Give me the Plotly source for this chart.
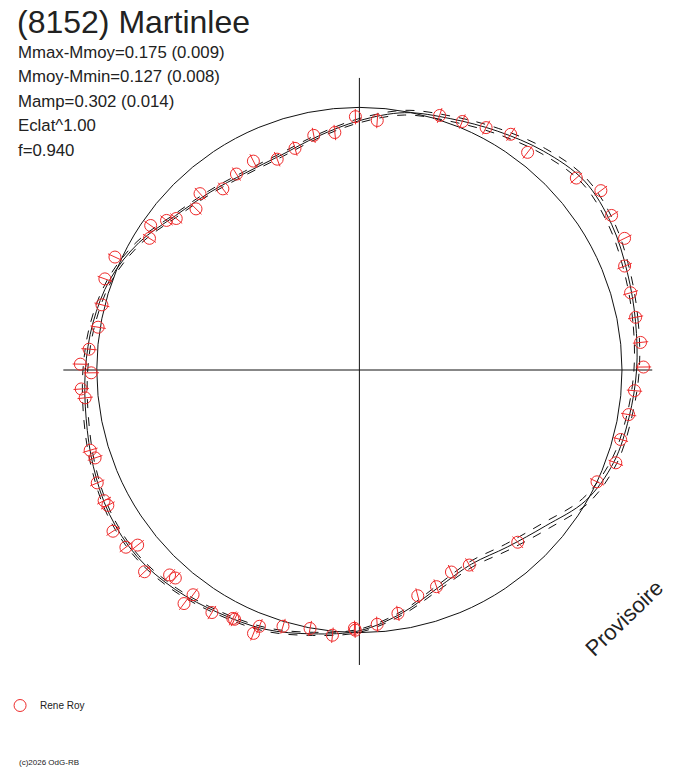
import plotly.graph_objects as go

# points: phase angle (deg, counterclockwise from east) and relative radius
pt_theta = [90.9, 85.9, 72.5, 67.5, 62.4, 57.3, 52.3, 41.5, 36.6, 31.5,
            26.4, 21.4, 15.9, 10.8, 5.6, 0.6, -4.3, -9.4, -14.9, -19.9,
            -25.2, -47.4, -60.6, -65.5, -70.4, -75.5, -81.0, -86.0, -91.1, -90.9,
            -95.8, -100.8, -106.6, -111.3, -111.9, -116.6, -117.0, -121.3, -126.5, -126.9,
            -131.5, -132.8, -136.8, -141.7, -142.8, -146.8, -151.7, -152.9, -156.7, -161.6,
            -163.4, -174.2, -176.1, -179.4, 178.8, 175.6, 170.7, 165.8, 160.3, 155.2,
            147.9, 145.3, 142.2, 140.4, 135.4, 132.1, 127.0, 122.1, 116.9, 111.3,
            106.2, 101.0, 95.9]
pt_r = [0.955, 0.943, 1.006, 1.014, 1.031, 1.056, 1.037, 1.092, 1.134, 1.115,
        1.116, 1.074, 1.063, 1.060, 1.065, 1.071, 1.040, 1.029, 1.019, 1.028,
        0.990, 0.882, 0.844, 0.837, 0.867, 0.879, 0.929, 0.961, 0.974, 0.981,
        1.005, 0.992, 1.008, 1.037, 1.070, 1.051, 1.051, 1.070, 1.054, 1.101,
        1.047, 1.053, 1.111, 1.065, 1.105, 1.110, 1.077, 1.081, 1.076, 1.050,
        1.059, 1.039, 1.051, 1.011, 1.052, 1.022, 0.998, 1.001, 1.019, 1.015,
        0.934, 0.957, 0.920, 0.896, 0.865, 0.896, 0.855, 0.872, 0.883, 0.853,
        0.870, 0.901, 0.900]

# fitted curve and its uncertainty
fit_theta = [0, 10, 20, 30, 40, 50, 60, 70, 80, 90, 100, 110,
             120, 130, 140, 150, 160, 170, 180, 190, 200, 210, 220, 230,
             240, 250, 260, 270, 280, 290, 300, 310, 320, 330, 340, 350]
fit_r = [1.045, 1.057, 1.075, 1.098, 1.108, 1.078, 1.040, 1.008, 0.985, 0.940, 0.895, 0.862,
         0.858, 0.875, 0.905, 0.960, 1.000, 1.020, 1.033, 1.046, 1.067, 1.088, 1.094, 1.080,
         1.058, 1.040, 1.010, 0.983, 0.930, 0.872, 0.845, 0.870, 0.915, 0.985, 1.020, 1.032]
fit_err = [0.010, 0.010, 0.011, 0.012, 0.012, 0.012, 0.011, 0.010, 0.009, 0.008, 0.007, 0.007,
           0.007, 0.007, 0.007, 0.008, 0.008, 0.009, 0.009, 0.009, 0.008, 0.008, 0.007, 0.007,
           0.007, 0.007, 0.006, 0.006, 0.007, 0.009, 0.011, 0.013, 0.015, 0.014, 0.012, 0.010]

ref_circle = 0.99
axis_theta = [0, 90, 180, 270]
axis_r = [1.104, 1.101, 1.116, 1.112]

infos = ["Mmax-Mmoy=0.175 (0.009)", "Mmoy-Mmin=0.127 (0.008)",
         "Mamp=0.302 (0.014)", "Eclat^1.00", "f=0.940"]

W, H = 688, 768

fig = go.Figure()

# axes cross
for t, r in zip(axis_theta, axis_r):
    fig.add_trace(go.Scatterpolar(r=[0, r], theta=[t, t], mode="lines",
                                  line=dict(color="#111", width=1),
                                  showlegend=False, hoverinfo="skip"))

loop_t = fit_theta + [fit_theta[0] + 360]
loop_r = fit_r + [fit_r[0]]
loop_e = fit_err + [fit_err[0]]
hi = [r + e for r, e in zip(loop_r, loop_e)]
lo = [r - e for r, e in zip(loop_r, loop_e)]

for rr, dash in [(hi, "dash"), (lo, "dash"), (loop_r, "solid")]:
    fig.add_trace(go.Scatterpolar(r=rr, theta=loop_t, mode="lines",
                                  line=dict(color="#111", width=1, dash=dash, shape="spline"),
                                  showlegend=False, hoverinfo="skip"))

fig.add_trace(go.Scatterpolar(
    r=pt_r, theta=pt_theta, mode="markers", name="Rene Roy",
    marker=dict(symbol="circle-open", size=12, color="#ee2a2a", line=dict(width=1))
))
fig.add_trace(go.Scatterpolar(
    r=pt_r, theta=pt_theta, mode="markers", showlegend=False, hoverinfo="skip",
    marker=dict(symbol="line-ns-open", size=11, color="#ee2a2a",
                angle=[90 - t for t in pt_theta], line=dict(width=1, color="#ee2a2a"))
))

R = 1.2 * 268
cx, cy = 356, 370
fig.update_layout(
    width=W, height=H,
    margin=dict(l=0, r=0, t=0, b=0),
    paper_bgcolor="white",
    font=dict(family="Liberation Sans, Arial", color="#222"),
    polar=dict(
        domain=dict(x=[(cx - R) / W, (cx + R) / W], y=[1 - (cy + R) / H, 1 - (cy - R) / H]),
        bgcolor="white",
        radialaxis=dict(range=[0, 1.2], tickvals=[ref_circle], showticklabels=False, ticks="",
                        showline=False, showgrid=True, gridcolor="#111", gridwidth=1),
        angularaxis=dict(showgrid=False, showline=False, showticklabels=False, ticks=""),
    ),
    showlegend=True,
    legend=dict(x=-7 / W, y=1 - 691 / H, xanchor="left", yanchor="top",
                font=dict(size=10, color="#222"), bgcolor="rgba(0,0,0,0)"),
)

fig.add_annotation(text="(8152) Martinlee", xref="paper", yref="paper",
                   x=8 / W, y=1 - 22 / H, xanchor="left", yanchor="middle",
                   showarrow=False, font=dict(size=32, color="#222"))
for i, s in enumerate(infos):
    fig.add_annotation(text=s, xref="paper", yref="paper",
                       x=9 / W, y=1 - (52 + 24.6 * i) / H, xanchor="left", yanchor="middle",
                       showarrow=False, font=dict(size=16.8, color="#222"))

fig.add_annotation(text="Provisoire", xref="paper", yref="paper",
                   x=623 / W, y=1 - 618 / H, xanchor="center", yanchor="middle",
                   textangle=-44, showarrow=False, font=dict(size=22, color="#222"))
fig.add_annotation(text="(c)2026 OdG-RB", xref="paper", yref="paper",
                   x=10 / W, y=1 - 762 / H, xanchor="left", yanchor="middle",
                   showarrow=False, font=dict(size=8, color="#222"))

fig.write_html("out.html", config={"displayModeBar": False},
               post_script="document.body.style.margin='0';")
